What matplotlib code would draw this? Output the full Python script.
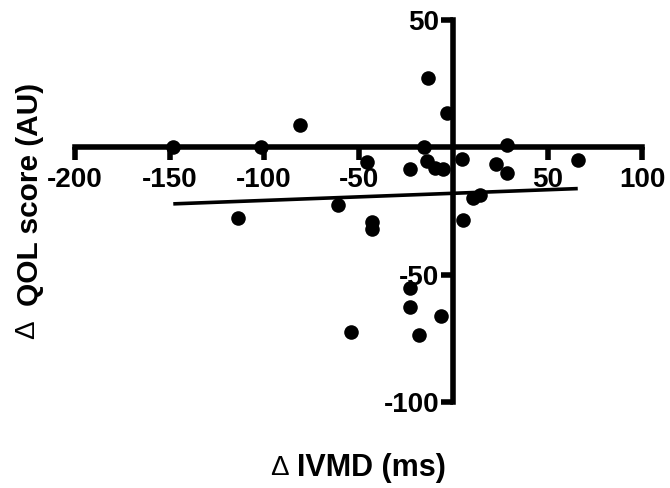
import matplotlib
matplotlib.use("Agg")
import matplotlib.pyplot as plt

plt.rcParams['font.family'] = ['Liberation Sans', 'DejaVu Sans']
plt.rcParams['font.weight'] = 'bold'

# Data
ivmd = [-148, -101.5, -80.8, -13.3, -3.4, -15.6, 28.4, 66.1, -45.3, -23, -14, -9.5, -5.4,
        4.7, 22.8, 28.4, 14.2, 10.4, -60.7, -113.7, -42.9, -42.9, 5.2, -23, -23, -6.3,
        -54.1, -17.8]
qol = [0.3, 0.2, 8.6, 27.4, 13.6, 0.2, 0.9, -4.8, -5.8, -8.7, -5.2, -8.0, -8.7,
       -4.5, -6.5, -10, -18.8, -19.9, -22.8, -27.8, -29.5, -32.1, -28.5, -55.2, -62.5, -66.4,
       -72.6, -73.6]
fit_x = [-148, 66]
fit_y = [-22.2, -16.2]

x_ticks = [-200, -150, -100, -50, 50, 100]
y_ticks = [-100, -50, 50]

W, H = 670, 488
fig = plt.figure(figsize=(W / 100, H / 100), dpi=100)
ax = fig.add_axes([75 / W, 86 / H, 567 / W, 382 / H])

ax.scatter(ivmd, qol, s=110, color='black', zorder=3, clip_on=False, linewidths=0)
ax.plot(fit_x, fit_y, color='black', lw=2.6, zorder=3, solid_capstyle='butt')

ax.set_xlim(-200, 100)
ax.set_ylim(-100, 50)
for s in ['top', 'right']:
    ax.spines[s].set_visible(False)
ax.spines['left'].set_position(('data', 0))
ax.spines['bottom'].set_position(('data', 0))
for s in ['left', 'bottom']:
    ax.spines[s].set_linewidth(4)
    ax.spines[s].set_capstyle('projecting')

ax.set_xticks(x_ticks)
ax.set_yticks(y_ticks)
ax.set_xticklabels([str(v) for v in x_ticks])
ax.set_yticklabels([str(v) for v in y_ticks])
ax.tick_params(axis='both', direction='out', length=9, width=4, labelsize=20, color='black')
ax.tick_params(axis='x', pad=5)
ax.tick_params(axis='y', pad=1)
for lbl in ax.get_xticklabels() + ax.get_yticklabels():
    lbl.set_fontweight('bold')

# y-axis title: thin delta + bold text
fig.text(27 / W, (H - 330) / H, 'Δ', rotation=90, ha='center', va='center',
         fontsize=20, fontweight='normal')
fig.text(30 / W, (H - 306) / H, 'QOL score (AU)', rotation=90, ha='center', va='bottom',
         fontsize=21.5, fontweight='bold')

# x-axis title: thin delta + bold text
fig.text(279 / W, (H - 468) / H, 'Δ', ha='center', va='center', fontsize=20, fontweight='normal')
fig.text(297 / W, (H - 468) / H, 'IVMD (ms)', ha='left', va='center', fontsize=22,
         fontweight='bold')

fig.savefig('out.png', dpi=100)
